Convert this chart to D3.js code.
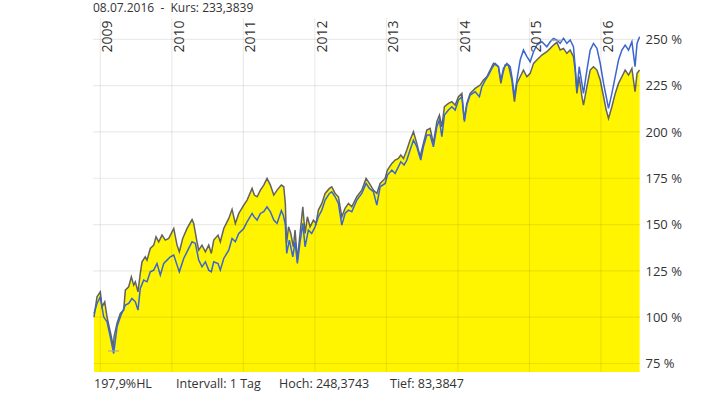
<!DOCTYPE html>
<html><head><meta charset="utf-8">
<script src="https://cdn.jsdelivr.net/npm/d3@7"></script>
<style>
html,body{margin:0;padding:0;background:#fff;}
svg{display:block;font-family:"Open Sans",sans-serif;}
</style></head>
<body>
<svg id="c" width="703" height="397"></svg>
<script>
// ---- data (time as decimal years) ----
const yearTicks = [2009, 2010, 2011, 2012, 2013, 2014, 2015, 2016];
const pctTicks = [75, 100, 125, 150, 175, 200, 225, 250];

const greyT = [2008.912,2008.954,2009.000,2009.024,2009.062,2009.094,2009.140,2009.173,2009.185,2009.192,2009.234,2009.280,2009.327,2009.350,2009.397,2009.434,2009.467,2009.490,2009.527,2009.559,2009.583,2009.629,2009.653,2009.699,2009.747,2009.779,2009.817,2009.863,2009.909,2009.957,2010.027,2010.073,2010.105,2010.152,2010.213,2010.283,2010.306,2010.352,2010.376,2010.422,2010.469,2010.516,2010.552,2010.586,2010.646,2010.678,2010.726,2010.796,2010.842,2010.888,2010.936,2011.006,2011.052,2011.122,2011.154,2011.192,2011.238,2011.285,2011.331,2011.378,2011.425,2011.471,2011.531,2011.565,2011.587,2011.604,2011.632,2011.663,2011.699,2011.723,2011.755,2011.793,2011.831,2011.863,2011.895,2011.933,2011.979,2012.017,2012.049,2012.097,2012.143,2012.203,2012.236,2012.283,2012.329,2012.376,2012.422,2012.469,2012.516,2012.586,2012.656,2012.716,2012.762,2012.818,2012.866,2012.912,2012.982,2013.014,2013.076,2013.122,2013.168,2013.201,2013.238,2013.285,2013.331,2013.378,2013.425,2013.471,2013.517,2013.565,2013.611,2013.657,2013.705,2013.741,2013.775,2013.811,2013.867,2013.915,2013.961,2014.007,2014.055,2014.087,2014.124,2014.171,2014.241,2014.310,2014.357,2014.404,2014.450,2014.497,2014.534,2014.566,2014.600,2014.628,2014.660,2014.706,2014.754,2014.790,2014.824,2014.870,2014.916,2014.964,2015.010,2015.057,2015.103,2015.173,2015.243,2015.290,2015.336,2015.383,2015.429,2015.476,2015.523,2015.569,2015.615,2015.639,2015.663,2015.695,2015.733,2015.755,2015.803,2015.849,2015.895,2015.943,2015.989,2016.036,2016.073,2016.105,2016.152,2016.199,2016.245,2016.292,2016.338,2016.385,2016.432,2016.476,2016.504,2016.540];
const greyV = [100,111,113.7,105.6,108.3,100.2,92,86,83.3847,89.4,96.7,102,103.8,114.6,116.4,121.8,117.3,119.1,113.7,123.6,129.9,132.6,130.8,137.1,138.9,143.4,140.7,144.3,141.6,142.5,147.9,138.9,135.3,142.5,147.9,152.8,150.6,140.7,136.2,138.9,135.3,138.9,134.4,141.6,144.3,140.7,147.9,153.3,158.2,150.6,156,160.5,163.2,169.5,165.9,165,168.6,171.3,174.9,171.3,165.9,168.6,171.3,170.4,161.4,139.9,148.8,145.2,138,147,130.8,145.2,159.6,145.2,154.2,148.8,152.4,150.6,157.8,161.4,166.8,169.5,170.4,166.8,165,154.2,158.7,161.4,159.6,165,168.6,174.9,172.2,168.6,166.8,172.2,174.9,179.4,183,184.8,185.7,187.5,185.7,190.2,195.6,200.1,193.8,186.6,193.8,201,201.9,193.8,205.5,209.1,202.8,213.6,215.4,216.3,214.5,219,220.8,206.5,215.4,220.8,223.5,225.3,228,229.8,233.4,237,236.1,235.2,226.2,231.6,236.1,236.1,228,216.3,226.2,229.8,233.4,229.8,231.6,237,238.8,241.5,243.3,245.1,246.9,248.3743,244.2,245.1,242.4,244.2,240.6,233.4,220.8,229.8,219,214.5,224.4,233.4,235.2,233.4,228,219,211.8,207.3,213.6,220.8,226.2,229.8,233.4,230.7,234.3,221.7,231.6,233.3839];

const blueT = [2008.912,2008.954,2009.000,2009.047,2009.094,2009.140,2009.187,2009.234,2009.280,2009.350,2009.397,2009.443,2009.490,2009.527,2009.559,2009.607,2009.653,2009.699,2009.747,2009.793,2009.839,2009.887,2009.933,2009.979,2010.027,2010.073,2010.105,2010.166,2010.236,2010.283,2010.329,2010.376,2010.422,2010.469,2010.516,2010.552,2010.586,2010.646,2010.678,2010.726,2010.796,2010.842,2010.888,2010.936,2011.006,2011.052,2011.122,2011.154,2011.192,2011.238,2011.285,2011.331,2011.378,2011.425,2011.471,2011.531,2011.559,2011.587,2011.606,2011.643,2011.691,2011.723,2011.755,2011.793,2011.831,2011.863,2011.909,2011.955,2012.003,2012.049,2012.097,2012.143,2012.203,2012.236,2012.283,2012.329,2012.376,2012.422,2012.469,2012.516,2012.586,2012.656,2012.716,2012.762,2012.818,2012.866,2012.912,2012.982,2013.014,2013.076,2013.122,2013.168,2013.201,2013.247,2013.285,2013.331,2013.378,2013.425,2013.480,2013.517,2013.565,2013.611,2013.657,2013.705,2013.741,2013.775,2013.811,2013.867,2013.915,2013.961,2014.007,2014.055,2014.091,2014.124,2014.171,2014.241,2014.300,2014.334,2014.383,2014.427,2014.474,2014.520,2014.566,2014.600,2014.637,2014.684,2014.730,2014.762,2014.790,2014.824,2014.870,2014.916,2014.964,2015.010,2015.057,2015.103,2015.173,2015.243,2015.290,2015.336,2015.383,2015.429,2015.476,2015.523,2015.569,2015.615,2015.639,2015.663,2015.695,2015.733,2015.755,2015.803,2015.849,2015.895,2015.943,2015.989,2016.036,2016.073,2016.105,2016.152,2016.199,2016.245,2016.292,2016.338,2016.385,2016.432,2016.476,2016.504,2016.540];
const blueV = [102,107.4,111,100.2,97.5,89.4,80.4,94.8,100.2,106.5,107.4,110.1,108.3,103.8,115.5,120,119.1,124.5,125.4,129,122.7,129,130.8,132.6,133.5,128.1,124.5,131.7,137.1,140.7,139.8,130.8,127.2,129.9,125.4,124.5,129.9,129,125.4,131.7,136.2,142.5,140.7,145.2,147.9,151.5,156,154,152.4,156,156.9,159.6,156.9,152.4,150.6,157.5,155,150,134.4,141.6,132.6,140.7,129,140.7,150.6,138,147,145.2,148.8,154.2,157.8,163.2,166.8,167.7,165,161.4,149.7,156,157.8,156.9,163.2,166.8,172.2,169.5,167.7,160.5,170.4,172.2,176.7,179.4,177.6,181.2,183.9,182.1,184.8,190.2,195.6,192,184.8,192,198.3,198.3,192,202.8,206.4,197.4,209.1,211.8,213.6,211.8,217.2,219,205.5,214.5,219.9,221.7,219,224.4,228,230.7,234.3,237,235.2,228,234.3,237,235.2,228,219,228,238.8,244.2,240.6,237.9,243.3,246.9,248.7,246,248.7,250.5,249.6,247.8,250.5,247.8,249.6,246,235.2,222.6,235.2,226.2,220.8,233.4,244.2,247.8,245.1,237,226.2,219,212.7,220.8,229.8,238.8,244.2,246.9,244.2,248.7,235.2,247.8,251.4];

const headerText = "08.07.2016  -  Kurs: 233,3839";
const footerTexts = ["197,9%HL", "Intervall: 1 Tag", "Hoch: 248,3743", "Tief: 83,3847"];

// ---- layout ----
const svg = d3.select("#c");
const plot = {left: 93, right: 640, top: 18, bottom: 372};

const x = d3.scaleLinear().domain([2009, 2016]).range([100.3, 601]);
const y = d3.scaleLinear().domain([75, 250]).range([363.5, 39.3]);

const grey = greyT.map((t, i) => ({t, v: greyV[i]}));
const blue = blueT.map((t, i) => ({t, v: blueV[i]}));

svg.append("defs").append("clipPath").attr("id", "clip")
  .append("rect").attr("x", plot.left).attr("y", plot.top)
  .attr("width", plot.right - plot.left).attr("height", plot.bottom - plot.top);

const g = svg.append("g").attr("clip-path", "url(#clip)");

// area under grey series
g.append("path").datum(grey)
  .attr("fill", "#fff500")
  .attr("d", d3.area().x(d => x(d.t)).y0(plot.bottom).y1(d => y(d.v)));

// gridlines (over the area, translucent)
const grid = svg.append("g").attr("stroke", "rgba(0,0,0,0.08)").attr("stroke-width", 1.2);
grid.selectAll(".hg").data(pctTicks).join("line")
  .attr("x1", plot.left).attr("x2", plot.right)
  .attr("y1", d => y(d)).attr("y2", d => y(d));
grid.selectAll(".vg").data(yearTicks).join("line")
  .attr("x1", d => x(d)).attr("x2", d => x(d))
  .attr("y1", plot.top).attr("y2", plot.bottom);

// lines
const line = d3.line().x(d => x(d.t)).y(d => y(d.v));
g.append("path").datum(grey).attr("fill", "none")
  .attr("stroke", "#626262").attr("stroke-width", 1.5).attr("stroke-linejoin", "miter")
  .attr("d", line);
g.append("path").datum(blue).attr("fill", "none")
  .attr("stroke", "#3a66d0").attr("stroke-width", 1.5).attr("stroke-linejoin", "miter")
  .attr("d", line);

// high / low markers
const hi = grey.reduce((a, b) => b.v > a.v ? b : a);
const lo = grey.reduce((a, b) => b.v < a.v ? b : a);
[hi, lo].forEach(p => {
  svg.append("line")
    .attr("x1", x(p.t) - 5.5).attr("x2", x(p.t) + 5.5)
    .attr("y1", y(p.v) + (p === lo ? 3 : -2)).attr("y2", y(p.v) + (p === lo ? 3 : -2))
    .attr("stroke", "#a8a8a8").attr("stroke-width", 1.2);
});

// year labels (rotated)
svg.append("g").selectAll("text").data(yearTicks).join("text")
  .attr("transform", d => `translate(${x(d) + 11.8},52.5) rotate(-90)`)
  .attr("font-size", 14).attr("fill", "#333")
  .text(d => d);

// right axis labels
const yAxis = d3.axisRight(y).tickValues(pctTicks).tickSize(0).tickPadding(0)
  .tickFormat(d => d + " %");
const ya = svg.append("g").attr("transform", `translate(645.5,0)`).call(yAxis);
ya.select(".domain").remove();
ya.selectAll("text").attr("font-size", 13).attr("fill", "#333")
  .attr("font-family", "'Open Sans',sans-serif");

// header
svg.append("text").attr("x", 93).attr("y", 12).attr("font-size", 12)
  .attr("fill", "#333").attr("xml:space", "preserve").style("white-space", "pre")
  .text(headerText);

// footer
const footerX = [94, 176, 279, 390];
svg.append("g").selectAll("text").data(footerTexts).join("text")
  .attr("x", (d, i) => footerX[i]).attr("y", 388)
  .attr("font-size", 12.5).attr("fill", "#333")
  .text(d => d);
</script>
</body></html>
